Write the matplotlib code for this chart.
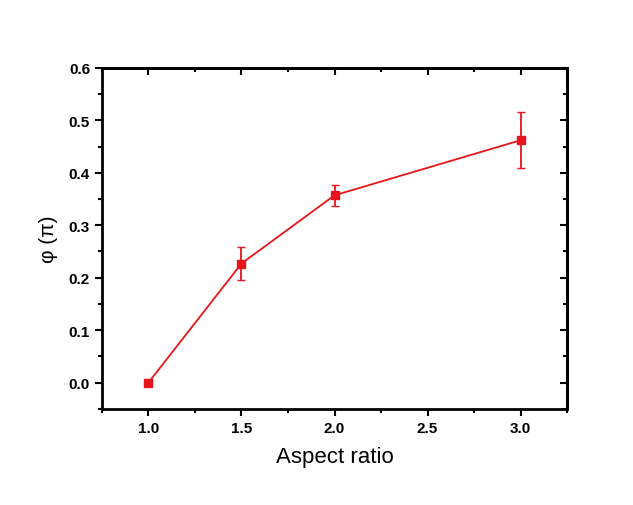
import matplotlib.pyplot as plt
from matplotlib.ticker import MultipleLocator

plt.rcParams['font.family'] = ['Liberation Sans', 'DejaVu Sans']

aspect = [1.0, 1.5, 2.0, 3.0]
phi = [0.0, 0.227, 0.357, 0.462]
phi_err = [0.0, 0.032, 0.02, 0.053]

fig = plt.figure(figsize=(6.33, 5.06), dpi=100)
ax = fig.add_axes([0.161, 0.190, 0.735, 0.674])
ax.errorbar(aspect, phi, yerr=phi_err, color='#e8141b', marker='s', markersize=6,
            linewidth=1.3, capsize=3, elinewidth=1.3)
ax.set_xlim(0.75, 3.25)
ax.set_ylim(-0.05, 0.6)
ax.xaxis.set_major_locator(MultipleLocator(0.5))
ax.xaxis.set_minor_locator(MultipleLocator(0.25))
ax.yaxis.set_major_locator(MultipleLocator(0.1))
ax.yaxis.set_minor_locator(MultipleLocator(0.05))
ax.xaxis.set_major_formatter(plt.FormatStrFormatter('%.1f'))
ax.yaxis.set_major_formatter(plt.FormatStrFormatter('%.1f'))
ax.tick_params(which='both', direction='out', width=1.5)
ax.tick_params(which='major', length=5, labelsize=11)
ax.tick_params(which='minor', length=3)
for lab in ax.get_xticklabels() + ax.get_yticklabels():
    lab.set_fontweight('bold')

# inward ticks on top and right, no labels
top = ax.secondary_xaxis('top')
right = ax.secondary_yaxis('right')
for sec, axis in ((top, top.xaxis), (right, right.yaxis)):
    step = 0.5 if sec is top else 0.1
    axis.set_major_locator(MultipleLocator(step))
    axis.set_minor_locator(MultipleLocator(step / 2))
    sec.tick_params(which='both', direction='in', width=1.5, labelsize=0)
    sec.tick_params(which='major', length=5)
    sec.tick_params(which='minor', length=3)
    axis.set_major_formatter(plt.NullFormatter())
    for s in sec.spines.values():
        s.set_linewidth(2)

for s in ax.spines.values():
    s.set_linewidth(2)
ax.set_xlabel('Aspect ratio', fontsize=16, labelpad=8)
ax.set_ylabel('φ (π)', fontsize=15, labelpad=8)
fig.savefig('out.png', dpi=100)
